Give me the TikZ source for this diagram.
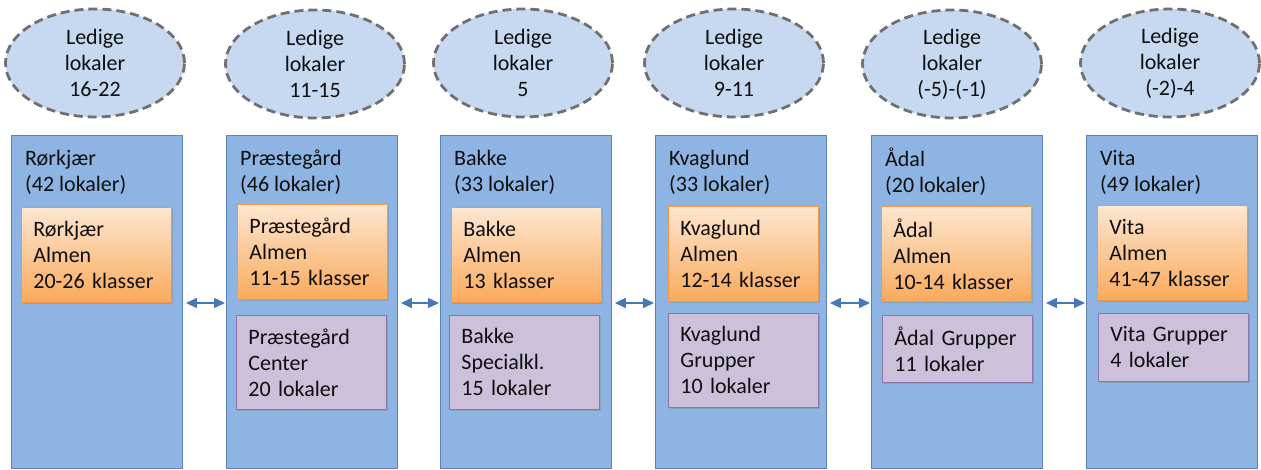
\documentclass[tikz,border=0pt]{standalone}
\usepackage{fontspec}
\setmainfont{Carlito}
\usetikzlibrary{arrows.meta,shadows,calc,shapes.geometric}
\definecolor{colfill}{RGB}{141,180,226}
\definecolor{coldraw}{RGB}{90,130,188}
\definecolor{ellfill}{RGB}{198,217,240}
\definecolor{elldraw}{RGB}{112,112,112}
\definecolor{ortop}{RGB}{253,230,208}
\definecolor{orbot}{RGB}{249,170,92}
\definecolor{ordraw}{RGB}{244,150,70}
\definecolor{pufill}{RGB}{204,192,218}
\definecolor{pudraw}{RGB}{136,116,166}
\definecolor{arrcol}{RGB}{70,120,185}
\definecolor{txt}{RGB}{15,15,15}
\begin{document}
\begin{tikzpicture}[x=1pt,y=-1pt,
  every node/.style={font=\fontsize{22}{26}\selectfont, text=txt},
  column/.style={draw=coldraw, line width=0.9pt, fill=colfill, anchor=north west,
    minimum width=171pt, minimum height=333pt, inner sep=0pt},
  title/.style={anchor=west, align=left, inner sep=0pt},
  freeell/.style={ellipse, draw=elldraw, fill=ellfill, line width=2.8pt,
    dash pattern=on 9pt off 5pt, minimum width=179pt, minimum height=108pt,
    align=center, inner sep=0pt},
  orbox/.style={anchor=north west, draw=ordraw, line width=0.8pt,
    top color=ortop, bottom color=orbot, minimum width=150pt, minimum height=95pt,
    text width=126pt, align=left, inner xsep=12pt, inner ysep=0pt,
    drop shadow={shadow xshift=1.5pt, shadow yshift=-2pt, opacity=0.35}},
  pubox/.style={anchor=north west, draw=pudraw, line width=0.8pt, fill=pufill,
    minimum width=150pt, minimum height=94pt,
    text width=126pt, align=left, inner xsep=12pt, inner ysep=0pt,
    drop shadow={shadow xshift=1.5pt, shadow yshift=-2pt, opacity=0.35}},
  biarrow/.style={draw=arrcol, line width=1.4pt,
    {Triangle[length=11pt,width=10pt]}-{Triangle[length=11pt,width=10pt]},
    shorten <=3pt, shorten >=1pt}
]
\useasboundingbox (0,0) rectangle (1261,470);

% free-room ellipses
\node[freeell] (e1) at (95,63)   {Ledige\\lokaler\\16-22};
\node[freeell] (e2) at (315,64)  {Ledige\\lokaler\\11-15};
\node[freeell] (e3) at (523,63)  {Ledige\\lokaler\\5};
\node[freeell] (e4) at (734,63)  {Ledige\\lokaler\\9-11};
\node[freeell] (e5) at (952,64)  {Ledige\\lokaler\\(-5)-(-1)};
\node[freeell] (e6) at (1170,63) {Ledige\\lokaler\\(-2)-4};

% columns
\node[column] (c1) at (11,135)   {};
\node[column] (c2) at (226,135)  {};
\node[column] (c3) at (440,135)  {};
\node[column] (c4) at (655,135)  {};
\node[column] (c5) at (871,135)  {};
\node[column] (c6) at (1086,135) {};

% titles
\node[title] (t1) at (25,172)   {Rørkjær\\(42 lokaler)};
\node[title] (t2) at (240,172)  {Præstegård\\(46 lokaler)};
\node[title] (t3) at (454,172)  {Bakke\\(33 lokaler)};
\node[title] (t4) at (669,172)  {Kvaglund\\(33 lokaler)};
\node[title] (t5) at (885,172)  {Ådal\\(20 lokaler)};
\node[title] (t6) at (1100,172) {Vita\\(49 lokaler)};

% orange boxes
\node[orbox] (o1) at (21,207)   {Rørkjær\\Almen\\20-26 klasser};
\node[orbox] (o2) at (237,204)  {Præstegård\\Almen\\11-15 klasser};
\node[orbox] (o3) at (451,207)  {Bakke\\Almen\\13 klasser};
\node[orbox] (o4) at (668,206)  {Kvaglund\\Almen\\12-14 klasser};
\node[orbox] (o5) at (881,206)  {Ådal\\Almen\\10-14 klasser};
\node[orbox] (o6) at (1097,205) {Vita\\Almen\\41-47 klasser};

% purple boxes
\node[pubox] (p2) at (236,315)  {Præstegård\\Center\\20 lokaler};
\node[pubox] (p3) at (449,315)  {Bakke\\Specialkl.\\15 lokaler};
\node[pubox] (p4) at (668,313)  {Kvaglund\\Grupper\\10 lokaler};
\node[pubox, minimum height=67pt] (p5) at (882,315)  {Ådal Grupper\\11 lokaler};
\node[pubox, minimum height=68pt] (p6) at (1098,313) {Vita Grupper\\4 lokaler};

% connectors
\draw[biarrow] ($(c1.north east)+(0,168)$) -- ($(c2.north west)+(0,168)$);
\draw[biarrow] ($(c2.north east)+(0,168)$) -- ($(c3.north west)+(0,168)$);
\draw[biarrow] ($(c3.north east)+(0,168)$) -- ($(c4.north west)+(0,168)$);
\draw[biarrow] ($(c4.north east)+(0,168)$) -- ($(c5.north west)+(0,168)$);
\draw[biarrow] ($(c5.north east)+(0,168)$) -- ($(c6.north west)+(0,168)$);
\end{tikzpicture}
\end{document}
